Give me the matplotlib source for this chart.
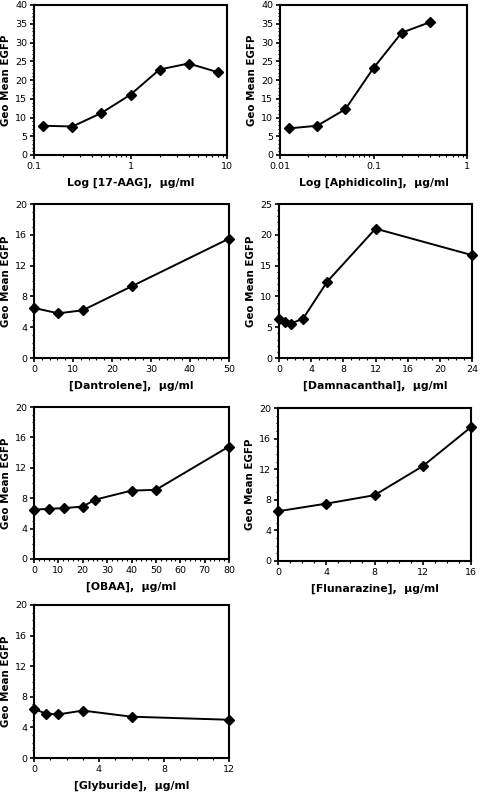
import matplotlib
matplotlib.use("Agg")
import matplotlib.pyplot as plt
from matplotlib.ticker import MultipleLocator, NullFormatter

# data
aag_x = [0.125, 0.25, 0.5, 1, 2, 4, 8]
aag_y = [7.8, 7.6, 11.2, 16.1, 22.8, 24.4, 22.1]
aph_x = [0.0125, 0.025, 0.05, 0.1, 0.2, 0.4]
aph_y = [7.1, 7.8, 12.2, 23.2, 32.6, 35.4]
dan_x = [0, 6.25, 12.5, 25, 50]
dan_y = [6.5, 5.8, 6.2, 9.3, 15.5]
dam_x = [0, 0.75, 1.5, 3, 6, 12, 24]
dam_y = [6.4, 5.9, 5.6, 6.4, 12.4, 21.0, 16.7]
obaa_x = [0, 6.25, 12.5, 20, 25, 40, 50, 80]
obaa_y = [6.5, 6.6, 6.7, 6.9, 7.8, 9.0, 9.1, 14.8]
flu_x = [0, 4, 8, 12, 16]
flu_y = [6.5, 7.5, 8.6, 12.4, 17.5]
gly_x = [0, 0.75, 1.5, 3, 6, 12]
gly_y = [6.4, 5.8, 5.7, 6.2, 5.4, 5.0]

W, H = 480, 793
fig = plt.figure(figsize=(W / 100, H / 100), dpi=100)


def panel(box, x, y, xlabel, xlim, ylim, ystep, xstep=None, xminor=None, log=False):
    l, t, r, b = box
    ax = fig.add_axes([l / W, 1 - b / H, (r - l) / W, (b - t) / H])
    ax.plot(x, y, color="black", lw=1.4, marker="D", ms=5, clip_on=False, zorder=3)
    if log:
        ax.set_xscale("log")
    ax.set_xlim(*xlim)
    ax.set_ylim(*ylim)
    ax.yaxis.set_major_locator(MultipleLocator(ystep))
    ax.yaxis.set_minor_locator(MultipleLocator(1))
    if not log:
        ax.xaxis.set_major_locator(MultipleLocator(xstep))
        ax.xaxis.set_minor_locator(MultipleLocator(xminor))
    else:
        ax.xaxis.set_minor_formatter(NullFormatter())
    ax.xaxis.set_major_formatter(lambda v, p: "%g" % v)
    for s in ax.spines.values():
        s.set_linewidth(1.5)
    ax.tick_params(which="major", direction="out", length=3, width=1.2, labelsize=6.8, pad=2)
    ax.tick_params(which="minor", direction="out", length=1.5, width=0.8)
    ax.set_ylabel("Geo Mean EGFP", fontsize=7.4, fontweight="bold", labelpad=3)
    ax.set_xlabel(xlabel, fontsize=7.8, fontweight="bold", labelpad=5)
    return ax


panel((34, 5, 227, 155), aag_x, aag_y, "Log [17-AAG],  \u03bcg/ml", (0.1, 10), (0, 40), 5, log=True)
panel((280, 5, 467, 155), aph_x, aph_y, "Log [Aphidicolin],  \u03bcg/ml", (0.01, 1), (0, 40), 5, log=True)
panel((34, 204, 229, 358), dan_x, dan_y, "[Dantrolene],  \u03bcg/ml", (0, 50), (0, 20), 4, 10, 2)
panel((279, 204, 472, 358), dam_x, dam_y, "[Damnacanthal],  \u03bcg/ml", (0, 24), (0, 25), 5, 4, 1)
panel((34, 407, 229, 559), obaa_x, obaa_y, "[OBAA],  \u03bcg/ml", (0, 80), (0, 20), 4, 10, 2)
panel((278, 408, 471, 561), flu_x, flu_y, "[Flunarazine],  \u03bcg/ml", (0, 16), (0, 20), 4, 4, 1)
panel((34, 605, 229, 758), gly_x, gly_y, "[Glyburide],  \u03bcg/ml", (0, 12), (0, 20), 4, 4, 1)

fig.savefig("out.png", dpi=100)
